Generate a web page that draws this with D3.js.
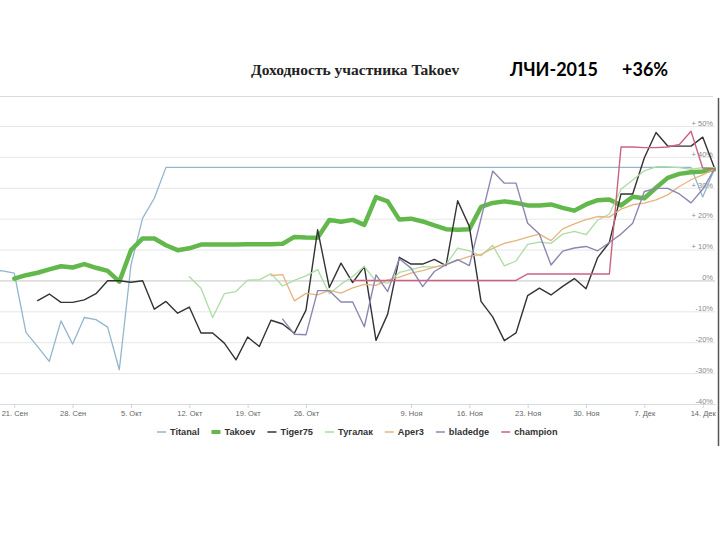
<!DOCTYPE html>
<html>
<head>
<meta charset="utf-8">
<script src="https://cdnjs.cloudflare.com/ajax/libs/d3/7.8.5/d3.min.js"></script>
<style>
    body { margin: 0; background: #fff; }
</style>
</head>
<body>
<svg id="chart" width="720" height="540"></svg>
<script>
// Trading days (weekends and 4 Nov skipped, ordinal axis)
var firstDay = '2015-09-17';
var lastDay = '2015-12-15';
var holidays = ['2015-11-04'];
var tickDays = ['2015-09-21', '2015-09-28', '2015-10-05', '2015-10-12', '2015-10-19', '2015-10-26',
    '2015-11-09', '2015-11-16', '2015-11-23', '2015-11-30', '2015-12-07', '2015-12-14'];
var monthNames = ['Янв', 'Фев', 'Мар', 'Апр', 'Май', 'Июн', 'Июл', 'Авг', 'Сен', 'Окт', 'Ноя', 'Дек'];
var yTicks = [-40, -30, -20, -10, 0, 10, 20, 30, 40, 50];

var seriesNames = ['Titanal', 'Takoev', 'Tiger75', 'Тугалак', 'Aper3', 'bladedge', 'champion'];

// values in %, one per trading day
var titanal = [3.3, 3.1, 2.4, -16.8, -21.4, -26.2, -13.1, -20.6, -12.0, -12.7, -15.1, -28.9, 5.0, 20.2, 26.6,
    36.6, 36.6, 36.6, 36.6, 36.6, 36.6, 36.6, 36.6, 36.6, 36.6, 36.6, 36.6, 36.6, 36.6, 36.6, 36.6,
    36.6, 36.6, 36.6, 36.6, 36.6, 36.6, 36.6, 36.6, 36.6, 36.6, 36.6, 36.6, 36.6, 36.6, 36.6, 36.6,
    36.6, 36.6, 36.6, 36.6, 36.6, 36.6, 36.6, 36.6, 36.6, 36.6, 36.6, 36.6, 36.6, 36.6, 27.0, 36.0];
var takoev = [null, null,
    0.6, 1.7, 2.5, 3.6, 4.6, 4.2, 5.3, 4.1, 3.1, -0.4,
    9.8, 13.6, 13.6, 11.4, 9.8, 10.4, 11.6, 11.6, 11.6, 11.6,
    11.7, 11.7, 11.7, 11.9, 14.1, 13.9, 13.8, 19.6, 19.0, 19.6,
    18.0, 27.0, 25.6, 19.7, 20.0, 19.1, 17.8, 16.6, 16.4, 16.6,
    23.8, 25.1, 25.6, 25.1, 24.3, 24.3, 24.6, 23.5, 22.6, 24.6,
    26.0, 26.2, 24.3, 27.1, 26.6, 30.0, 33.2, 34.5, 35.0, 35.3,
    36.0];
var tiger75 = [null, null, null, null,
    -6.5, -4.4, -7.1, -7.1, -6.3, -4.3, -0.1, -0.1,
    -0.6, -0.1, -9.3, -6.8, -10.6, -8.6, -17.0, -17.0, -20.3, -25.7,
    -18.3, -21.4, -12.9, -14.1, -17.1, -9.6, 16.4, -2.3, 5.6, -0.7,
    4.5, -19.4, -10.9, 7.5, 5.3, 5.3, 6.8, 4.8, 25.8, 17.5,
    -6.8, -11.8, -19.5, -17.0, -4.9, -2.5, -4.7, -1.9, 0.6, -2.7,
    7.4, 12.3, 28.0, 28.0, 39.7, 47.9, 43.5, 43.5, 43.5, 46.4,
    36.5];
var tugalak = [null, null, null, null, null, null, null, null, null, null, null, null,
    null, null, null, null, null,
    1.2, -2.5, -12.0, -4.3, -3.6,
    0.1, 0.2, 2.2, -1.8, 0.0, 1.5, 3.5, -4.3, -1.2, 1.3,
    4.5, -0.3, -0.9, 2.6, 3.5, 4.5, 4.3, 5.1, 10.5, 9.6,
    8.0, 11.4, 4.7, 6.3, 11.7, 12.4, 12.0, 15.0, 15.9, 14.8,
    19.5, 21.5, 29.5, 32.5, 35.5, 36.8, 36.8, 36.5, 36.0, 36.5,
    36.5];
var aper3 = [null, null, null, null, null, null, null, null, null, null, null, null,
    null, null, null, null, null, null, null, null, null, null, null, null,
    1.6, 1.9, -6.6, -4.2, -4.7, -3.2, -4.1, -2.4,
    -1.3, -1.6, 0.2, 1.1, 2.4, 3.2, 4.3, 5.1, 6.5, 7.8,
    8.4, 10.4, 12.0, 12.9, 14.0, 15.0, 12.9, 16.7, 18.3, 19.7,
    20.7, 20.5, 23.1, 24.5, 25.0, 26.1, 27.7, 30.4, 32.6, 34.2,
    36.0];
var bladedge = [null, null, null, null, null, null, null, null, null, null, null, null,
    null, null, null, null, null, null, null, null, null, null, null, null, null,
    -12.5, -17.4, -17.6, -3.3, -3.3, -7.0, -7.0,
    -15.0, 1.8, -3.6, 7.0, 4.0, -2.0, 2.9, 5.1, 6.7, 4.8,
    20.0, 35.4, 31.5, 31.5, 18.5, 15.0, 5.0, 9.5, 10.5, 11.0,
    9.6, 12.3, 15.0, 18.5, 28.8, 29.8, 29.8, 28.0, 25.1, 29.5,
    36.0];
var champion = [null, null, null, null, null, null, null, null, null, null, null, null,
    null, null, null, null, null, null, null, null, null, null, null, null, null,
    null, null, null, null, null, null,
    0, 0, 0, 0, 0, 0, 0, 0, 0, 0, 0, 0, 0, 0, 0,
    2.1, 2.1, 2.1, 2.1, 2.1, 2.1, 2.1, 2.1,
    43.2, 43.2, 43.0, 43.0, 43.2, 44.0, 48.3, 36.4, 36.2];

var allSeries = [titanal, takoev, tiger75, tugalak, aper3, bladedge, champion];
var colours = ['#92b6cc', '#63b84c', '#333333', '#addca4', '#e8b37c', '#8c87b2', '#cc6282'];
var widths = [1.3, 4.5, 1.4, 1.3, 1.3, 1.4, 1.4];

var parse = d3.timeParse('%Y-%m-%d');
var fmt = d3.timeFormat('%Y-%m-%d');

var days = d3.timeDay.range(parse(firstDay), d3.timeDay.offset(parse(lastDay), 1))
    .filter(function(d) {
        return d.getDay() !== 0 && d.getDay() !== 6 && holidays.indexOf(fmt(d)) < 0;
    })
    .map(fmt);

var svg = d3.select('#chart');

// SCALES
var x = d3.scaleLinear()
    .domain([days.indexOf(tickDays[0]), days.indexOf(tickDays[tickDays.length - 1])])
    .range([14.3, 702.7]);

var y = d3.scaleLinear()
    .domain([-40, 50])
    .range([404, 126]);

// Title
svg.append('text')
    .attr('x', 251)
    .attr('y', 75)
    .attr('font-family', 'Liberation Serif, serif')
    .attr('font-weight', 'bold')
    .attr('font-size', '15.5px')
    .attr('fill', '#222')
    .text('Доходность участника Takoev');

svg.append('text')
    .attr('x', 510)
    .attr('y', 76)
    .attr('font-family', 'Lato, sans-serif')
    .attr('font-weight', 'bold')
    .attr('font-size', '18px')
    .attr('fill', '#000')
    .text('ЛЧИ-2015');

svg.append('text')
    .attr('x', 622)
    .attr('y', 76)
    .attr('font-family', 'Lato, sans-serif')
    .attr('font-weight', 'bold')
    .attr('font-size', '18px')
    .attr('fill', '#000')
    .text('+36%');

// frame lines
svg.append('line')
    .attr('x1', 0).attr('x2', 713)
    .attr('y1', 96.5).attr('y2', 96.5)
    .attr('stroke', '#dcdcdc');

svg.append('line')
    .attr('x1', 718.5).attr('x2', 718.5)
    .attr('y1', 98).attr('y2', 446)
    .attr('stroke', '#555')
    .attr('stroke-width', 1.5);

// Y grid + labels
var yAxis = svg.append('g')
    .attr('class', 'y axis')
    .attr('transform', 'translate(715,0)')
    .call(
        d3.axisLeft(y)
            .tickValues(yTicks)
            .tickSizeInner(715)
            .tickSizeOuter(0)
            .tickFormat(function(d) {
                return d > 0 ? '+ ' + d + '%' : d + '%';
            })
    );
yAxis.select('.domain').remove();
yAxis.selectAll('.tick line')
    .attr('stroke', function(d) { return d === 0 ? '#c4c4c4' : '#e6e6e6'; });
yAxis.selectAll('.tick text')
    .attr('x', -2)
    .attr('dy', '-0.1em')
    .attr('fill', '#8a8a8a')
    .attr('font-family', 'Liberation Sans, Arial, sans-serif')
    .attr('font-size', '7.5px');

// X axis
var xAxis = svg.append('g')
    .attr('class', 'x axis')
    .attr('transform', 'translate(0,' + y(-40) + ')')
    .call(
        d3.axisBottom(x)
            .tickValues(tickDays.map(function(d) { return days.indexOf(d); }))
            .tickSize(4)
            .tickPadding(3)
            .tickFormat(function(i) {
                var d = parse(days[i]);
                return d.getDate() + '. ' + monthNames[d.getMonth()];
            })
    );
xAxis.select('.domain')
    .attr('d', 'M0,0.5H716')
    .attr('stroke', '#d8dde4');
xAxis.selectAll('.tick line').attr('stroke', '#cfd5dc');
xAxis.selectAll('.tick text')
    .attr('fill', '#666')
    .attr('font-family', 'Liberation Sans, Arial, sans-serif')
    .attr('font-size', '7.5px');

// Lines
svg.append('clipPath')
    .attr('id', 'plotClip')
    .append('rect')
    .attr('x', 0).attr('y', 100)
    .attr('width', 716).attr('height', 310);

var line = d3.line()
    .defined(function(d) { return d !== null; })
    .x(function(d, i) { return x(i); })
    .y(function(d) { return y(d); });

svg.append('g')
    .attr('clip-path', 'url(#plotClip)')
    .selectAll('.series')
    .data(allSeries)
    .enter()
    .append('path')
    .attr('class', 'series')
    .attr('d', line)
    .attr('fill', 'none')
    .attr('stroke', function(d, i) { return colours[i]; })
    .attr('stroke-width', function(d, i) { return widths[i]; })
    .attr('stroke-linejoin', 'round')
    .attr('stroke-linecap', 'round');

// Legend
var legend = svg.append('g').attr('class', 'legend');
var lx = 157;
seriesNames.forEach(function(name, i) {
    legend.append('line')
        .attr('x1', lx).attr('x2', lx + 9)
        .attr('y1', 432).attr('y2', 432)
        .attr('stroke', colours[i])
        .attr('stroke-width', i === 1 ? 4 : 1.5);
    var t = legend.append('text')
        .attr('x', lx + 13)
        .attr('y', 435.2)
        .attr('font-family', 'Liberation Sans, Arial, sans-serif')
        .attr('font-weight', 'bold')
        .attr('font-size', '9.2px')
        .attr('fill', '#333')
        .text(name);
    lx += 13 + t.node().getComputedTextLength() + 12;
});
</script>
</body>
</html>
